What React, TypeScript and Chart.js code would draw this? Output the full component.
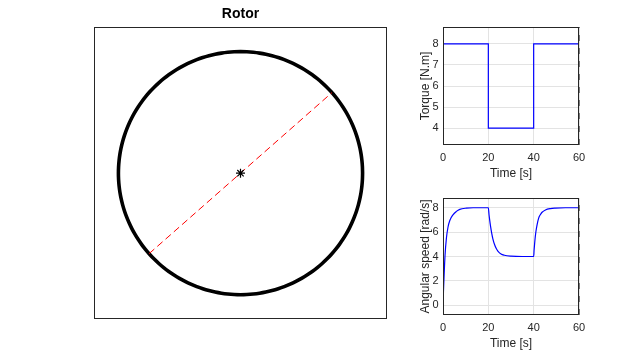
import React, { useEffect, useRef } from "react";
import { Chart, registerables } from "chart.js";

Chart.register(...registerables);

// ---- Data ----
const rotorRadius = 1;
const rotorAngleDeg = 41.5;
const rotorLimit = 1.2;

const timeTicks = [0, 20, 40, 60];
const timeRange = [0, 60];

const torqueTime = [0, 20, 20, 40, 40, 60];
const torqueValue = [8, 8, 4, 4, 8, 8];
const torqueTicks = [4, 5, 6, 7, 8];
const torqueRange = [3.2, 8.8];

const speedTime = [
  0, 0.2, 0.45, 0.9, 1.5, 2.2, 3, 4.4, 5.9, 7.4, 10.3, 13.3, 20,
  20.3, 20.6, 21, 21.5, 22, 22.7, 23.5, 24.2, 25.6, 27.1, 30, 35, 40,
  40.2, 40.4, 40.7, 41, 41.5, 42.2, 43, 43.7, 45.2, 47.4, 49.6, 54, 60,
];
const speedValue = [
  0, 1.1, 2.3, 4.1, 5.5, 6.4, 6.95, 7.42, 7.7, 7.87, 7.97, 8.0, 8.0,
  7.45, 6.98, 6.45, 5.9, 5.45, 5.0, 4.65, 4.45, 4.2, 4.1, 4.03, 4.0, 4.0,
  4.55, 5.0, 5.6, 6.05, 6.6, 7.15, 7.45, 7.63, 7.82, 7.93, 7.97, 8.0, 8.0,
];
const speedTicks = [0, 2, 4, 6, 8];
const speedRange = [-0.8, 8.8];

const currentTime = 60;

// ---- Styles ----
const FONT = "'Liberation Sans', Arial, Helvetica, sans-serif";
const AXIS_COLOR = "#262626";
const GRID_COLOR = "#e3e3e3";
Chart.defaults.font.family = FONT;

const boxPlugin = {
  id: "boxFrame",
  afterDraw(chart: any) {
    const { ctx, chartArea } = chart;
    const l = Math.round(chartArea.left) + 0.5;
    const t = Math.round(chartArea.top) + 0.5;
    const r = Math.round(chartArea.right) - 0.5;
    const b = Math.round(chartArea.bottom) - 0.5;
    ctx.save();
    ctx.strokeStyle = AXIS_COLOR;
    ctx.lineWidth = 1;
    ctx.strokeRect(l, t, r - l, b - t);
    ctx.restore();
  },
};

function zip(xs: number[], ys: number[]) {
  return xs.map((x, i) => ({ x, y: ys[i] }));
}

function timeSeriesConfig(
  times: number[],
  values: number[],
  yTicks: number[],
  yRange: number[],
  yTitle: string,
  padTop: number,
  smooth: boolean
): any {
  return {
    type: "scatter",
    data: {
      datasets: [
        {
          data: zip(times, values),
          showLine: true,
          borderColor: "#0000ff",
          borderWidth: 1.2,
          pointRadius: 0,
          cubicInterpolationMode: smooth ? "monotone" : "default",
          tension: 0,
        },
        {
          data: [
            { x: currentTime, y: yRange[0] },
            { x: currentTime, y: yRange[1] },
          ],
          showLine: true,
          borderColor: "#555555",
          borderWidth: 1.5,
          borderDash: [6, 7],
          pointRadius: 0,
          clip: 4,
        },
      ],
    },
    options: {
      responsive: false,
      animation: false,
      events: [],
      layout: { padding: { top: padTop, right: 61, left: 0, bottom: 0 } },
      plugins: { legend: { display: false }, tooltip: { enabled: false } },
      scales: {
        x: {
          type: "linear",
          min: timeRange[0],
          max: timeRange[1],
          afterBuildTicks: (s: any) => {
            s.ticks = timeTicks.map((v) => ({ value: v }));
          },
          afterFit: (s: any) => {
            s.height = 36;
          },
          grid: { color: GRID_COLOR, drawTicks: false },
          border: { display: false },
          ticks: {
            color: AXIS_COLOR,
            font: { size: 11 },
            padding: 6,
            maxRotation: 0,
          },
          title: {
            display: true,
            text: "Time [s]",
            color: AXIS_COLOR,
            font: { size: 12 },
            padding: { top: 0, bottom: 0 },
          },
        },
        y: {
          type: "linear",
          min: yRange[0],
          max: yRange[1],
          afterBuildTicks: (s: any) => {
            s.ticks = yTicks.map((v) => ({ value: v }));
          },
          afterFit: (s: any) => {
            s.width = 43;
          },
          grid: { color: GRID_COLOR, drawTicks: false },
          border: { display: false },
          ticks: {
            color: AXIS_COLOR,
            font: { size: 11 },
            padding: 4.5,
          },
          title: {
            display: true,
            text: yTitle,
            color: AXIS_COLOR,
            font: { size: 12 },
            padding: { top: 18, bottom: 0 },
          },
        },
      },
    },
    plugins: [boxPlugin],
  };
}

function rotorConfig(): any {
  const a = (rotorAngleDeg * Math.PI) / 180;
  const circle = [] as { x: number; y: number }[];
  for (let i = 0; i <= 120; i++) {
    const th = (i / 120) * 2 * Math.PI;
    circle.push({ x: rotorRadius * Math.cos(th), y: rotorRadius * Math.sin(th) });
  }
  return {
    type: "scatter",
    data: {
      datasets: [
        {
          data: [{ x: 0, y: 0 }],
          pointStyle: "star",
          pointRadius: 4.5,
          borderColor: "#000000",
          backgroundColor: "#000000",
          borderWidth: 1.2,
          showLine: false,
        },
        {
          data: [
            { x: -rotorRadius * Math.cos(a), y: -rotorRadius * Math.sin(a) },
            { x: rotorRadius * Math.cos(a), y: rotorRadius * Math.sin(a) },
          ],
          showLine: true,
          borderColor: "#ff0000",
          borderWidth: 1,
          borderDash: [7, 4],
          pointRadius: 0,
        },
        {
          data: circle,
          showLine: true,
          borderColor: "#000000",
          borderWidth: 3.6,
          borderCapStyle: "round",
          borderJoinStyle: "round",
          pointRadius: 0,
          tension: 0.2,
        },
      ],
    },
    options: {
      responsive: false,
      animation: false,
      events: [],
      layout: { padding: { top: 0, left: 34, right: 33, bottom: 21 } },
      plugins: {
        legend: { display: false },
        tooltip: { enabled: false },
        title: {
          display: true,
          text: "Rotor",
          color: "#000000",
          font: { size: 14, weight: "bold" },
          padding: { top: 6, bottom: 4.5 },
        },
      },
      scales: {
        x: { type: "linear", min: -rotorLimit, max: rotorLimit, display: false },
        y: { type: "linear", min: -rotorLimit, max: rotorLimit, display: false },
      },
    },
    plugins: [boxPlugin],
  };
}

export default function App() {
  const rotorRef = useRef<HTMLCanvasElement>(null);
  const torqueRef = useRef<HTMLCanvasElement>(null);
  const speedRef = useRef<HTMLCanvasElement>(null);

  useEffect(() => {
    const charts: Chart[] = [];
    if (rotorRef.current) {
      charts.push(new Chart(rotorRef.current, rotorConfig()));
    }
    if (torqueRef.current) {
      charts.push(
        new Chart(
          torqueRef.current,
          timeSeriesConfig(torqueTime, torqueValue, torqueTicks, torqueRange, "Torque [N.m]", 27, false)
        )
      );
    }
    if (speedRef.current) {
      charts.push(
        new Chart(
          speedRef.current,
          timeSeriesConfig(speedTime, speedValue, speedTicks, speedRange, "Angular speed [rad/s]", 18, true)
        )
      );
    }
    return () => charts.forEach((c) => c.destroy());
  }, []);

  const abs = (left: number, top: number, w: number, h: number): React.CSSProperties => ({
    position: "absolute",
    left,
    top,
    width: w,
    height: h,
  });

  return (
    <div style={{ position: "fixed", left: 0, top: 0, width: 640, height: 360, background: "#ffffff" }}>
      <canvas ref={rotorRef} width={360} height={340} style={abs(60, 0, 360, 340)} />
      <canvas ref={torqueRef} width={240} height={181} style={abs(400, 0, 240, 181)} />
      <canvas ref={speedRef} width={240} height={171} style={abs(400, 180, 240, 171)} />
    </div>
  );
}
